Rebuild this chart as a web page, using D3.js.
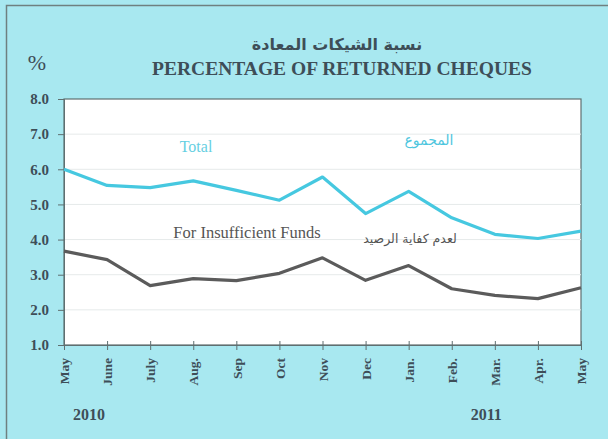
<!DOCTYPE html>
<html><head><meta charset="utf-8">
<script src="https://cdn.jsdelivr.net/npm/d3@7"></script>
<style>
html,body{margin:0;padding:0;background:#a8e8f0;}
svg{display:block;}
</style></head>
<body>
<script>
const months = ["May","June","July","Aug.","Sep","Oct","Nov","Dec","Jan.","Feb.","Mar.","Apr.","May"];
const totalValues = [6.0,5.54,5.48,5.67,5.40,5.12,5.78,4.74,5.37,4.62,4.15,4.03,4.24];
const insufficientValues = [3.67,3.43,2.69,2.89,2.83,3.04,3.48,2.84,3.26,2.60,2.41,2.32,2.63];
const yTicks = [1,2,3,4,5,6,7,8];
const yearLabels = [{label:"2010", idx:0.58},{label:"2011", idx:9.8}];
const titleAr = "نسبة الشيكات المعادة";
const titleEn = "PERCENTAGE OF RETURNED CHEQUES";

const W=608,H=439;
const svg=d3.select("body").append("svg").attr("width",W).attr("height",H);
const serif="'Liberation Serif','Times New Roman',serif";
const arFont="'DejaVu Sans','Noto Sans',sans-serif";
const ink="#3e4e58";

svg.append("rect").attr("width",W).attr("height",H).attr("fill","#a8e8f0");
// outer frame (top and left)
svg.append("path").attr("d",`M6.5,${H} V5.5 H${W}`).attr("fill","none").attr("stroke","#6f8080").attr("stroke-width",1.5);

const m={l:64,r:581,t:99,b:345};
const x=d3.scalePoint().domain(d3.range(months.length)).range([m.l,m.r]);
const y=d3.scaleLinear().domain([1,8]).range([m.b,m.t]);

svg.append("rect").attr("x",m.l).attr("y",m.t).attr("width",m.r-m.l).attr("height",m.b-m.t)
  .attr("fill","#ffffff").attr("stroke","#5f6f70").attr("stroke-width",1.2);

// grid
svg.append("g").selectAll("line").data(yTicks.slice(1,-1)).join("line")
  .attr("x1",m.l).attr("x2",m.r).attr("y1",d=>y(d)).attr("y2",d=>y(d))
  .attr("stroke","#e6eaea").attr("stroke-width",1);

// y axis
const ya=svg.append("g").attr("transform",`translate(${m.l},0)`)
  .call(d3.axisLeft(y).tickValues(yTicks).tickFormat(d3.format(".1f")).tickSize(6).tickPadding(9));
ya.select(".domain").attr("stroke","#5f6f70");
ya.selectAll(".tick line").attr("stroke","#5f6f70");
ya.selectAll("text").attr("font-family",serif).attr("font-weight","bold").attr("font-size",15).attr("fill",ink);

// x axis
const xa=svg.append("g").attr("transform",`translate(0,${m.b})`)
  .call(d3.axisBottom(x).tickFormat(i=>months[i]).tickSize(5));
xa.select(".domain").attr("stroke","#5f6f70");
xa.selectAll(".tick line").attr("stroke","#5f6f70").attr("y1",-4).attr("y2",5);
xa.selectAll("text").attr("font-family",serif).attr("font-weight","bold").attr("font-size",13.5).attr("fill",ink)
  .attr("transform","rotate(-90)").attr("text-anchor","end").attr("x",-13).attr("y",0).attr("dy","0.35em");

// lines
const line=d3.line().x((d,i)=>x(i)).y(d=>y(d));
svg.append("path").datum(totalValues).attr("d",line).attr("fill","none").attr("stroke","#46c8e0").attr("stroke-width",3.2).attr("stroke-linejoin","round");
svg.append("path").datum(insufficientValues).attr("d",line).attr("fill","none").attr("stroke","#5b5b5b").attr("stroke-width",3.2).attr("stroke-linejoin","round");

// series labels
svg.append("text").attr("x",196).attr("y",152).attr("text-anchor","middle").attr("font-family",serif).attr("font-size",16).attr("fill","#66cfe2").text("Total");
svg.append("text").attr("x",429).attr("y",145).attr("text-anchor","middle").attr("font-family",arFont).attr("font-size",14).attr("fill","#4ec6de").text("المجموع");
svg.append("text").attr("x",247).attr("y",238).attr("text-anchor","middle").attr("font-family",serif).attr("font-size",16.5).attr("fill","#555").text("For Insufficient Funds");
svg.append("text").attr("x",410).attr("y",243).attr("text-anchor","middle").attr("font-family",arFont).attr("font-size",12.5).attr("fill","#555").text("لعدم كفاية الرصيد");

// titles
svg.append("text").attr("x",337).attr("y",50).attr("text-anchor","middle").attr("font-family",arFont).attr("font-weight","bold").attr("font-size",16).attr("fill",ink).text(titleAr);
svg.append("text").attr("x",342).attr("y",75).attr("text-anchor","middle").attr("font-family",serif).attr("font-weight","bold").attr("font-size",19.5).attr("fill",ink).text(titleEn);
svg.append("text").attr("x",37).attr("y",70).attr("text-anchor","middle").attr("font-family",serif).attr("font-size",22).attr("fill",ink).text("%");

// years
svg.append("g").selectAll("text").data(yearLabels).join("text")
  .attr("x",d=>m.l+(m.r-m.l)/(months.length-1)*d.idx).attr("y",420).attr("text-anchor","middle")
  .attr("font-family",serif).attr("font-weight","bold").attr("font-size",16).attr("fill",ink).text(d=>d.label);
</script>
</body></html>
